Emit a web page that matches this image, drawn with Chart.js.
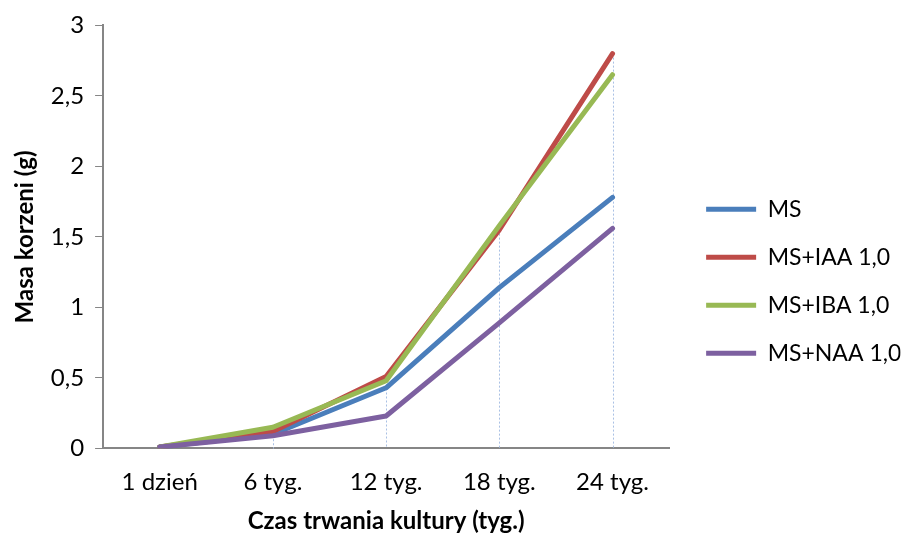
<!DOCTYPE html>
<html>
<head>
<meta charset="utf-8">
<script src="https://cdn.jsdelivr.net/npm/chart.js@4/dist/chart.umd.min.js"></script>
<style>
  html, body { margin: 0; padding: 0; background: #fff; }
  #wrap { width: 906px; height: 536px; }
</style>
</head>
<body>
<div id="wrap"><canvas id="wykres"></canvas></div>
<script>
const kategorie = ["1 dzień", "6 tyg.", "12 tyg.", "18 tyg.", "24 tyg."];
const serieNazwy = ["MS", "MS+IAA 1,0", "MS+IBA 1,0", "MS+NAA 1,0"];
const ms    = [0.01, 0.10, 0.43, 1.14, 1.78];
const msIaa = [0.01, 0.12, 0.51, 1.55, 2.80];
const msIba = [0.01, 0.15, 0.48, 1.58, 2.65];
const msNaa = [0.01, 0.09, 0.23, 0.89, 1.56];
const kolory = ["#4A7EBB", "#BE4B48", "#98B954", "#7D60A0"];

const FONT = "Lato, 'Open Sans', sans-serif";

// linie pionowe (jak "drop lines" w Excelu) od najwyzszego punktu do osi
const dropLines = {
  id: "dropLines",
  beforeDatasetsDraw(chart) {
    const { ctx, scales: { x, y } } = chart;
    ctx.save();
    ctx.strokeStyle = "#A9C0E4";
    ctx.lineWidth = 1;
    ctx.setLineDash([2, 2]);
    kategorie.forEach((k, i) => {
      const maks = Math.max(...chart.data.datasets.map(d => d.data[i]));
      const px = Math.round(x.getPixelForValue(i)) + 0.5;
      ctx.beginPath();
      ctx.moveTo(px, y.getPixelForValue(maks));
      ctx.lineTo(px, y.getPixelForValue(0));
      ctx.stroke();
    });
    ctx.restore();
  }
};

// legenda troche dalej od wykresu i nizej
const legendShift = {
  id: "legendShift",
  afterLayout(chart) {
    const lg = chart.legend;
    lg.left += 12; lg.right += 12;
    lg.top += 9; lg.bottom += 9;
  }
};

const dane = [ms, msIaa, msIba, msNaa];

new Chart(document.getElementById("wykres"), {
  type: "line",
  data: {
    labels: kategorie,
    datasets: dane.map((d, i) => ({
      label: serieNazwy[i],
      data: d,
      borderColor: kolory[i],
      backgroundColor: kolory[i],
      borderWidth: 5,
      borderCapStyle: "round",
      borderJoinStyle: "round",
      pointRadius: 0,
      tension: 0,
      order: 4 - i   // NAA na wierzchu, MS na spodzie
    }))
  },
  options: {
    responsive: true,
    maintainAspectRatio: false,
    animation: false,
    layout: { padding: { top: 8.5, right: 17.5, bottom: 0, left: 11 } },
    plugins: {
      tooltip: { enabled: false },
      legend: {
        position: "right",
        align: "center",
        labels: {
          sort: (a, b) => a.datasetIndex - b.datasetIndex,
          usePointStyle: true,
          pointStyle: "line",
          pointStyleWidth: 50,
          padding: 25,
          color: "#000",
          font: { family: FONT, size: 23 }
        }
      }
    },
    scales: {
      x: {
        offset: true,
        grid: { display: false },
        border: { display: true, color: "#868686", width: 2 },
        ticks: { color: "#000", padding: 11, font: { family: FONT, size: 24 } },
        title: {
          display: true,
          text: "Czas trwania kultury (tyg.)",
          color: "#000",
          padding: { top: 0, bottom: 0 },
          font: { family: FONT, size: 24, weight: "bold" }
        }
      },
      y: {
        min: 0,
        max: 3,
        ticks: {
          stepSize: 0.5,
          color: "#000",
          padding: 11,
          font: { family: FONT, size: 24 },
          callback: v => String(v).replace(".", ",")
        },
        grid: { drawOnChartArea: false, tickLength: 8, color: "#868686", lineWidth: 1 },
        border: { display: true, color: "#868686", width: 2 },
        title: {
          display: true,
          text: "Masa korzeni (g)",
          color: "#000",
          padding: { top: 0, bottom: 0 },
          font: { family: FONT, size: 24, weight: "bold" }
        }
      }
    }
  },
  plugins: [dropLines, legendShift]
});
</script>
</body>
</html>
